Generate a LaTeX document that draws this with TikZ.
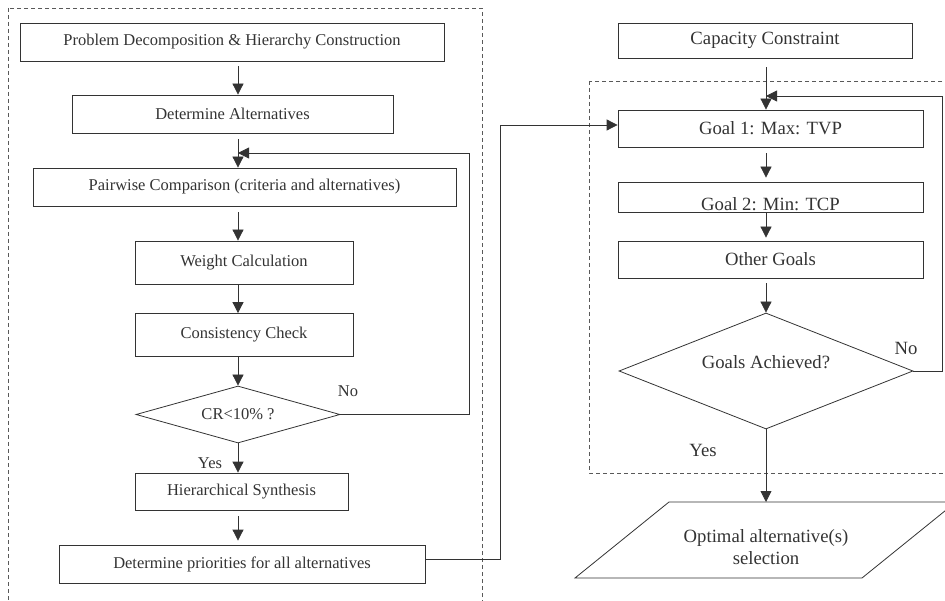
\documentclass[tikz,border=0pt]{standalone}
\usepackage{fontspec}
\setmainfont{Liberation Serif}
\usetikzlibrary{arrows.meta,shapes.geometric}
\definecolor{sqsqsq}{rgb}{0.2,0.2,0.2}
\definecolor{wwwwww}{rgb}{0.35,0.35,0.35}

\begin{document}
\begin{tikzpicture}[line cap=butt,line join=miter,>={Triangle[length=11pt,width=11pt]},x=1pt,y=-1pt,
  box/.style={draw=sqsqsq,line width=0.8pt,inner sep=0pt,text=sqsqsq},
  decision/.style={diamond,draw=sqsqsq,line width=0.8pt,inner sep=0pt,text=sqsqsq},
  frame/.style={draw=wwwwww,line width=0.7pt,dash pattern=on 4pt off 3pt},
  flow/.style={->,draw=sqsqsq,line width=0.8pt},
  lbl/.style={inner sep=0pt,text=sqsqsq}]
\useasboundingbox (0,0) rectangle (945,601);
% dashed frames
\draw[frame] (8,8) rectangle (482,615);
\draw[frame] (589,81) rectangle (965,473);
% AHP part
\begin{scope}[font=\fontsize{16.5}{19}\selectfont]
\coordinate (colA) at (238,0);
\node[box,minimum width=424pt,minimum height=38pt] (decomp) at (232,42) {Problem Decomposition \& Hierarchy Construction};
\node[box,minimum width=321pt,minimum height=38pt] (alts) at (232.5,114) {Determine Alternatives};
\node[box,minimum width=423pt,minimum height=38pt] (pairwise) at (244.5,187) {Pairwise Comparison (criteria and alternatives)};
\node[box,minimum width=218pt,minimum height=43pt] (weight) at (244,262.5) {Weight Calculation};
\node[box,minimum width=218pt,minimum height=43pt] (consist) at (244,335) {Consistency Check};
\node[decision,minimum width=204pt,minimum height=57pt,aspect=3.6] (cr) at (238,414.5) {CR<10\% ?};
\node[box,minimum width=213pt,minimum height=37pt] (synth) at (241.5,491.5) {Hierarchical Synthesis};
\node[box,minimum width=366pt,minimum height=38pt] (prior) at (242,564) {Determine priorities for all alternatives};
\node[lbl] (noA) at (348,391) {No};
\node[lbl] (yesA) at (210,463) {Yes};
\coordinate (loopA) at (238,153);
\draw[flow,shorten <=5pt] (decomp.south -| colA) -- (alts.north -| colA);
\draw[flow,shorten <=6pt] (alts.south -| colA) -- (pairwise.north -| colA);
\draw[flow,shorten <=6pt] (pairwise.south -| colA) -- (weight.north -| colA);
\draw[flow] (weight.south -| colA) -- (consist.north -| colA);
\draw[flow] (consist.south -| colA) -- (cr.north);
\draw[flow] (cr.south) -- (synth.north -| colA);
\draw[flow,shorten <=6pt,shorten >=4pt] (synth.south -| colA) -- (prior.north -| colA);
\draw[flow] (cr.east) -| (469,153) -- (loopA);
\end{scope}
% goal programming part
\begin{scope}[font=\fontsize{18.7}{22.4}\selectfont]
\coordinate (colB) at (766,0);
\node[box,minimum width=294pt,minimum height=35pt] (cap) at (765,40.5) {Capacity Constraint};
\node[box,minimum width=305pt,minimum height=37pt] (goal1) at (770.5,128.5) {Goal 1: Max: TVP};
\node[box,minimum width=305pt,minimum height=30pt,text height=27pt,text depth=0pt] (goal2) at (770.5,197) {Goal 2: Min: TCP};
\node[box,minimum width=305pt,minimum height=37pt] (other) at (770.5,259.5) {Other Goals};
\node[decision,minimum width=294pt,minimum height=116pt,aspect=2.5,text depth=18pt] (achieved) at (766,371) {Goals Achieved?};
\coordinate (optop) at (766,502);
\draw[box] (575,578) -- (669,502) -- (956,502) -- (862,578) -- cycle;
\node[lbl,align=center] (optimal) at (766,547) {Optimal alternative(s)\\selection};
\node[lbl] (noB) at (906,348) {No};
\node[lbl] (yesB) at (703,450) {Yes};
\coordinate (loopB) at (766,96);
\draw[flow,shorten <=9pt] (cap.south -| colB) -- (goal1.north -| colB);
\draw[flow,shorten <=6pt,shorten >=4pt] (goal1.south -| colB) -- (goal2.north -| colB);
\draw[flow,shorten >=3pt] (goal2.south -| colB) -- (other.north -| colB);
\draw[flow,shorten <=5pt] (other.south -| colB) -- (achieved.north);
\draw[flow] (achieved.south) -- (optop);
\draw[flow] (achieved.east) -| (942,96) -- (loopB);
\end{scope}
% link between the two parts
\draw[flow] ([yshift=5pt]prior.east) -| (500,125) -- ([yshift=3.5pt]goal1.west);
\end{tikzpicture}
\end{document}
